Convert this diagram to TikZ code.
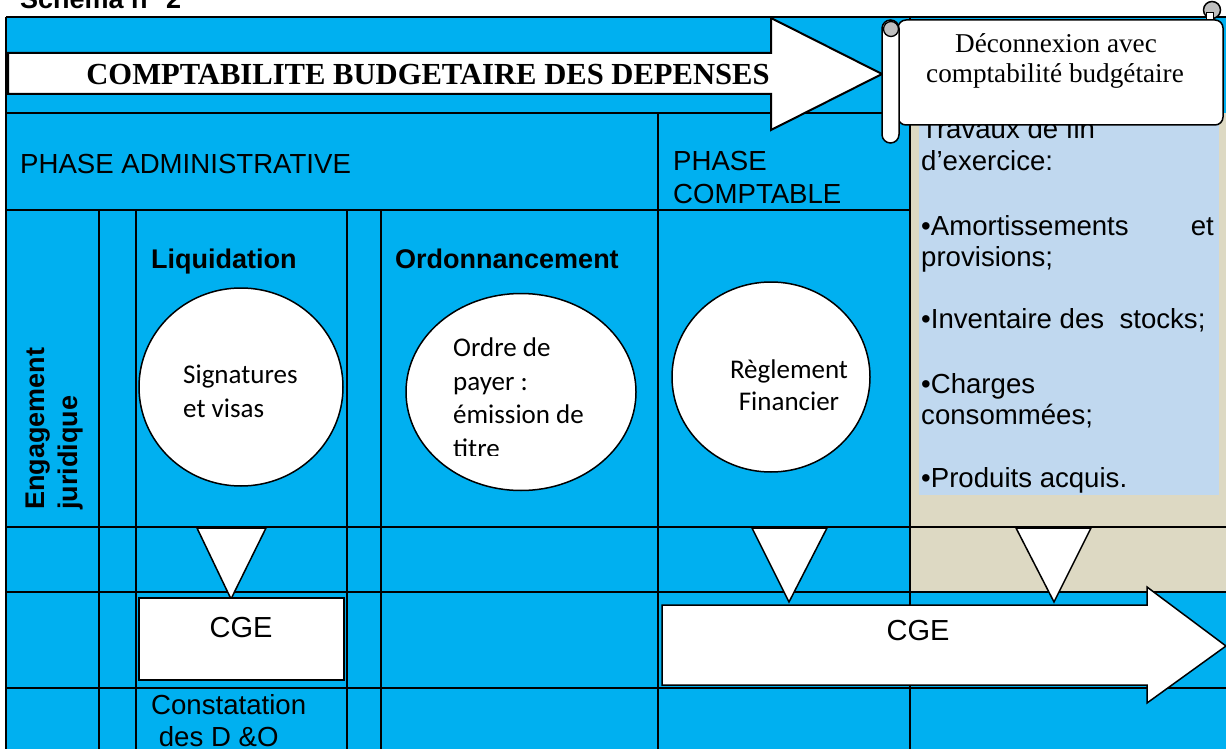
\documentclass[tikz,border=0pt]{standalone}
\usepackage{fontspec}
\setmainfont{Liberation Sans}
\newfontfamily\tnr{Liberation Serif}
\newfontfamily\cbr{Carlito}
\usetikzlibrary{shapes.geometric}
\definecolor{skyb}{HTML}{00B0F0}
\definecolor{tanb}{HTML}{DDD9C3}
\definecolor{paleb}{HTML}{C0D8EF}
\definecolor{curlg}{HTML}{BFBFBF}
\begin{document}
\begin{tikzpicture}[x=1pt,y=-1pt,
  gridline/.style={line width=2pt, draw=black},
  shp/.style={draw=black, line width=1.5pt, fill=white},
  txt/.style={font=\fontsize{27.6}{32}\selectfont, inner sep=0pt},
  btxt/.style={font=\fontsize{27}{32}\selectfont\bfseries, inner sep=0pt},
  cgetxt/.style={font=\fontsize{29}{32}\selectfont, inner sep=0pt},
  ctxt/.style={font=\cbr\fontsize{27}{33}\selectfont, inner sep=0pt},
  ttxt/.style={font=\tnr\fontsize{27.2}{30}\selectfont, inner sep=0pt},
  oval/.style={ellipse, draw=black, line width=1.5pt, fill=white, inner sep=0pt}]
\useasboundingbox (0,0) rectangle (1226,749);
\clip (0,0) rectangle (1226,749);
% backgrounds
\fill[white] (0,0) rectangle (1226,749);
\fill[skyb] (6,17) rectangle (1226,760);
\fill[tanb] (910,113) rectangle (1226,592);
\fill[paleb] (919,113) rectangle (1219,495);
% grid
\draw[gridline] (6,17) -- (1226,17);
\draw[gridline] (6,17) -- (6,760);
\draw[gridline] (6,113) -- (910,113);
\draw[gridline] (6,210) -- (910,210);
\draw[gridline] (6,527) -- (1226,527);
\draw[gridline] (6,592) -- (1226,592);
\draw[gridline] (6,688) -- (1226,688);
\draw[gridline] (658,113) -- (658,760);
\draw[gridline] (910,17) -- (910,760);
\foreach \xx in {99,136,347,381} \draw[gridline] (\xx,210) -- (\xx,760);
% header text
\node[btxt, anchor=base west] (schema) at (20,9) {Schema n° 2};
% title banner arrow
\draw[shp, line width=2pt] (8,53) -- (771,53) -- (771,18) -- (882,74) -- (771,130) -- (771,94) -- (8,94) -- cycle;
\node[inner sep=0pt, font=\tnr\bfseries\fontsize{30.6}{32}\selectfont, anchor=base] (title) at (428,85) {COMPTABILITE BUDGETAIRE DES DEPENSES};
% phases
\node[txt, anchor=base west] (padm) at (20,173) {PHASE ADMINISTRATIVE};
\node[txt, anchor=base west] (pcomp1) at (673,171) {PHASE};
\node[txt, anchor=base west] (pcomp2) at (673,203) {COMPTABLE};
% engagement
\node[btxt, rotate=90, anchor=base west] (eng1) at (44,510) {Engagement};
\node[btxt, rotate=90, anchor=base west] (eng2) at (77,510) {juridique};
% column titles
\node[btxt, anchor=base west] (liqt) at (151,268) {Liquidation};
\node[btxt, anchor=base west] (ordt) at (395,268) {Ordonnancement};
% ovals
\node[oval, minimum width=204pt, minimum height=198pt] (liq) at (241,387) {};
\node[ctxt, anchor=base west] (sig1) at (183,383) {Signatures};
\node[ctxt, anchor=base west] (sig2) at (183,417) {et visas};
\node[oval, minimum width=230pt, minimum height=197pt] (ord) at (521,392) {};
\begin{scope}
\clip (400,320) rectangle (640,455);
\node[ctxt, anchor=base west] (ord1) at (453,356) {Ordre de};
\node[ctxt, anchor=base west] (ord2) at (453,390) {payer :};
\node[ctxt, anchor=base west] (ord3) at (453,423) {émission de};
\node[ctxt, anchor=base west] (ord4) at (453,457) {titre};
\end{scope}
\node[oval, minimum width=198pt, minimum height=190pt] (reg) at (771,377) {};
\node[ctxt, anchor=base] (reg1) at (789,378) {Règlement};
\node[ctxt, anchor=base] (reg2) at (789,410) {Financier};
% right column text
\node[txt, anchor=base west] (tr1) at (921,139) {Travaux de fin};
\node[txt, anchor=base west] (tr2) at (921,171) {d’exercice:};
\node[txt, anchor=base west] (am1) at (921,235) {•Amortissements};
\node[txt, anchor=base east] (am2) at (1214,235) {et};
\node[txt, anchor=base west] (am3) at (921,266) {provisions;};
\node[txt, anchor=base west] (inv) at (921,328) {•Inventaire des~ stocks;};
\node[txt, anchor=base west] (ch1) at (921,393) {•Charges};
\node[txt, anchor=base west] (ch2) at (921,424) {consommées;};
\node[txt, anchor=base west] (pr) at (921,487) {•Produits acquis.};
% triangles
\draw[shp] (197,528) -- (266,528) -- (231,599) -- cycle;
\draw[shp] (752,528) -- (827,528) -- (789,602) -- cycle;
\draw[shp] (1016,528) -- (1091,528) -- (1054,602) -- cycle;
% CGE box
\draw[shp, line width=2pt] (139,598) rectangle (344,680);
\node[cgetxt, anchor=base] (cge1) at (241,637) {CGE};
% CGE arrow
\draw[shp] (662,605) -- (1147,605) -- (1147,587) -- (1226,646) -- (1147,703) -- (1147,685) -- (662,685) -- cycle;
\node[cgetxt, anchor=base] (cge2) at (918,640) {CGE};
% constatation
\node[txt, anchor=base west] (con1) at (151,714) {Constatation};
\node[txt, anchor=base west] (con2) at (151,746) {~des D \&O};
% scroll
\draw[shp, rounded corners=8pt] (898,20) rectangle (1223,125);
\draw[shp, rounded corners=8.5pt] (882,20) rectangle (899,143);
\draw[draw=black, line width=1.3pt, fill=curlg] (891,29) circle (7.5pt);
\draw[draw=black, line width=1.5pt, fill=curlg] (1212,10) circle (8.5pt);
\draw[draw=black, line width=1pt, fill=white] (1206,13) rectangle (1213,20);
\node[ttxt, anchor=base] (dec1) at (1056,53) {Déconnexion avec};
\node[ttxt, anchor=base] (dec2) at (1055,83) {comptabilité budgétaire};
\end{tikzpicture}
\end{document}
